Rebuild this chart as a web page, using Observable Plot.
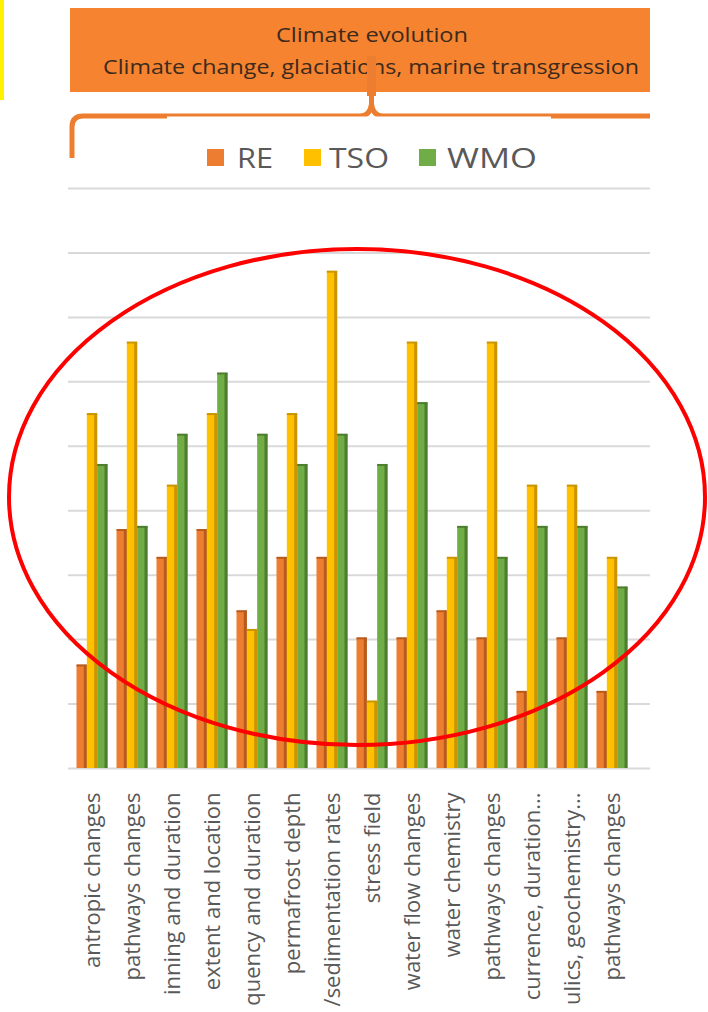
<!DOCTYPE html>
<html>
<head>
<meta charset="utf-8">
<script src="https://cdn.jsdelivr.net/npm/d3@7"></script>
<script src="https://cdn.jsdelivr.net/npm/@observablehq/plot@0.6"></script>
<style>
  html, body { margin: 0; padding: 0; background: #fff; }
  body { width: 708px; height: 1012px; overflow: hidden; font-family: "Open Sans", sans-serif; }
  svg { display: block; }
</style>
</head>
<body>
<div id="header"></div>
<div id="chart"></div>
<script>
// Process categories shown along the x axis (left to right)
const categories = [
  "antropic changes",
  "pathways changes",
  "inning and duration",
  "extent and location",
  "quency and duration",
  "permafrost depth",
  "/sedimentation rates",
  "stress field",
  "water flow changes",
  "water chemistry",
  "pathways changes",
  "currence, duration...",
  "ulics, geochemistry...",
  "pathways changes"
];

// Series names and values (in gridline units)
const seriesNames = ["RE", "TSO", "WMO"];
const reValues  = [1.6, 3.7, 3.27, 3.7, 2.44, 3.27, 3.27, 2.02, 2.02, 2.44, 2.02, 1.19, 2.02, 1.19];
const tsoValues = [5.5, 6.61, 4.39, 5.5, 2.15, 5.5, 7.71, 1.04, 6.61, 3.27, 6.61, 4.39, 4.39, 3.27];
const wmoValues = [4.71, 3.75, 5.18, 6.13, 5.18, 4.71, 5.18, 4.71, 5.67, 3.75, 3.27, 3.75, 3.75, 2.81];

// Horizontal gridline positions
const gridTicks = [0, 1, 2, 3, 4, 5, 6, 7, 8, 9];

// Banner text
const bannerTitle = "Climate evolution";
const bannerSubtitle = "Climate change, glaciations, marine transgression";

const seriesValues = [reValues, tsoValues, wmoValues];
const seriesFill  = ["#ED7D31", "#FFC000", "#70AD47"];
const seriesShade = ["#B65A1E", "#C99500", "#4D7E2E"];
const bannerOrange = "#F5832F";
const braceOrange = "#EE7E2F";

// ---- Header: banner, brace and legend ----
const header = d3.select("#header").append("svg")
  .attr("width", 708).attr("height", 175)
  .style("font-family", "'Open Sans', sans-serif");

header.append("rect").attr("x", 0).attr("y", 0).attr("width", 4).attr("height", 100).attr("fill", "#FFF200");

header.append("rect").attr("x", 70).attr("y", 8).attr("width", 580).attr("height", 84).attr("fill", bannerOrange);

header.append("text")
  .attr("x", 276).attr("y", 42)
  .attr("textLength", 192).attr("lengthAdjust", "spacingAndGlyphs")
  .attr("font-size", 20).attr("fill", "#3b2a1d")
  .text(bannerTitle);

header.append("text")
  .attr("x", 103).attr("y", 74)
  .attr("textLength", 536).attr("lengthAdjust", "spacingAndGlyphs")
  .attr("font-size", 20).attr("fill", "#3b2a1d")
  .text(bannerSubtitle);

// brace tip rising into the banner
header.append("rect").attr("x", 367).attr("y", 56).attr("width", 9).attr("height", 40).attr("fill", braceOrange);

header.append("path")
  .attr("d", "M72,158 V127 Q72,116 83,116 H360 Q370,116 371.5,104 V92 M371.5,104 Q373,116 383,116 H650")
  .attr("fill", "none").attr("stroke", braceOrange).attr("stroke-width", 5);

// legend panel
header.append("rect").attr("x", 167).attr("y", 116.5).attr("width", 384).attr("height", 58).attr("fill", "#fff");

const legendItems = [
  {sx: 207, tx: 237, tl: 36},
  {sx: 304, tx: 329, tl: 60},
  {sx: 419, tx: 447, tl: 90}
];
legendItems.forEach((d, k) => {
  header.append("rect").attr("x", d.sx).attr("y", 149).attr("width", 17).attr("height", 17).attr("fill", seriesFill[k]);
  header.append("text")
    .attr("x", d.tx).attr("y", 168)
    .attr("textLength", d.tl).attr("lengthAdjust", "spacingAndGlyphs")
    .attr("font-size", 28).attr("fill", "#595959")
    .text(seriesNames[k]);
});

// ---- Clustered columns ----
const ids = d3.range(categories.length);
const band = 40, group = 31, barW = group / seriesNames.length, outer = (band - group) / 2;

const barMarks = seriesNames.flatMap((name, k) => {
  const data = ids.map(i => ({i, v: seriesValues[k][i]}));
  const left = outer + k * barW;
  const right = band - left - barW;
  return [
    Plot.barY(data, {x: "i", y: "v", fill: seriesFill[k], insetLeft: left, insetRight: right}),
    Plot.barY(data, {x: "i", y: "v", fill: seriesShade[k], insetLeft: left + barW - 3, insetRight: right}),
    Plot.tickY(data, {x: "i", y: "v", stroke: seriesShade[k], strokeWidth: 2, insetLeft: left, insetRight: right})
  ];
});

const chart = Plot.plot({
  width: 708,
  height: 837,
  marginTop: 13,
  marginBottom: 244,
  marginLeft: 68,
  marginRight: 58,
  style: {fontFamily: "'Open Sans', sans-serif", fontSize: "22px", color: "#595959", background: "#fff"},
  x: {type: "band", domain: ids, range: [72, 632], padding: 0},
  y: {domain: [0, 9], axis: null},
  marks: [
    Plot.ruleY(gridTicks, {stroke: "#d9d9d9", strokeWidth: 2}),
    ...barMarks,
    Plot.axisX({
      tickFormat: i => categories[i],
      tickRotate: -90,
      tickSize: 0,
      tickPadding: 24,
      fontSize: 22,
      label: null
    })
  ]
});

// annotation ring around the columns
d3.select(chart).append("ellipse")
  .attr("cx", 357).attr("cy", 322).attr("rx", 348).attr("ry", 248)
  .attr("fill", "none").attr("stroke", "#FF0000").attr("stroke-width", 4);

document.getElementById("chart").appendChild(chart);
</script>
</body>
</html>
